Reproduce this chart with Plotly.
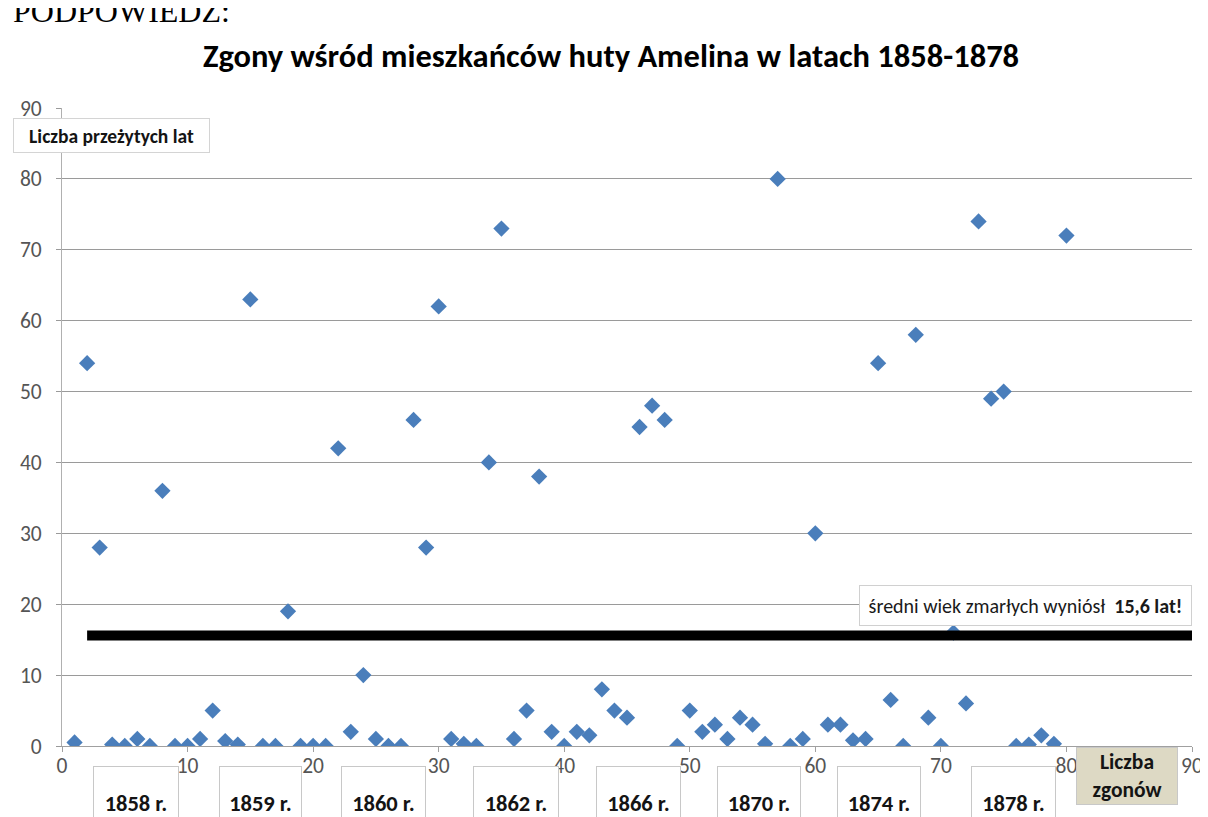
import plotly.graph_objects as go

# ---- data ----
death_no = [1, 2, 3, 4, 5, 6, 7, 8, 9, 10, 11, 12, 13, 14, 15, 16, 17, 18, 19, 20,
            21, 22, 23, 24, 25, 26, 27, 28, 29, 30, 31, 32, 33, 34, 35, 36, 37, 38, 39, 40,
            41, 42, 43, 44, 45, 46, 47, 48, 49, 50, 51, 52, 53, 54, 55, 56, 57, 58, 59, 60,
            61, 62, 63, 64, 65, 66, 67, 68, 69, 70, 71, 72, 73, 74, 75, 76, 77, 78, 79, 80]
years_lived = [0.5, 54, 28, 0.2, 0, 1, 0, 36, 0, 0,
               1, 5, 0.7, 0.2, 63, 0, 0, 19, 0, 0,
               0, 42, 2, 10, 1, 0, 0, 46, 28, 62,
               1, 0.3, 0, 40, 73, 1, 5, 38, 2, 0,
               2, 1.5, 8, 5, 4, 45, 48, 46, 0, 5,
               2, 3, 1, 4, 3, 0.3, 80, 0, 1, 30,
               3, 3, 0.8, 1, 54, 6.5, 0, 58, 4, 0,
               16, 6, 74, 49, 50, 0, 0.2, 1.5, 0.3, 72]
mean_age = 15.6
mean_line_x = [2, 90.3]
axis_ticks = [0, 10, 20, 30, 40, 50, 60, 70, 80, 90]
year_labels = ["1858 r.", "1859 r.", "1860 r.", "1862 r.", "1866 r.", "1870 r.", "1874 r.", "1878 r."]

title_text = "Zgony wśród mieszkańców huty Amelina w latach 1858-1878"
y_title = "Liczba przeżytych lat"
x_title = "Liczba<br>zgonów"
mean_text = "średni wiek zmarłych wyniósł  <b>15,6 lat!</b>"

# ---- layout geometry (pixels) ----
W, H = 1208, 817
L, R, T, B = 54, 1184, 100, 738
FONT = "Carlito, 'Liberation Sans Narrow', 'Open Sans', sans-serif"


def px(p):
    return (p - L) / (R - L)


def py(p):
    return (B - p) / (B - T)


fig = go.Figure()
fig.add_trace(go.Scatter(
    x=death_no, y=years_lived, mode="markers",
    marker=dict(symbol="diamond", size=12.5, color="#4a7ebb"),
    showlegend=False, hoverinfo="x+y",
))
fig.add_trace(go.Scatter(
    x=mean_line_x, y=[mean_age, mean_age], mode="lines", xaxis="x2",
    line=dict(color="black", width=10), showlegend=False, hoverinfo="skip",
))

year_box_x = [(85, 171), (211, 294), (333, 418), (465, 551), (588, 673), (709, 793), (829, 913), (963, 1048)]
annotations = []
for lbl, (a, b) in zip(year_labels, year_box_x):
    annotations.append(dict(
        text=f"<b>{lbl}</b>", xref="paper", yref="paper",
        x=px((a + b) / 2), y=py(758), xanchor="center", yanchor="top",
        width=b - a - 2, height=72, borderpad=0, showarrow=False,
        bgcolor="white", bordercolor="#c8c8c8", borderwidth=1,
        font=dict(family=FONT, size=22.5, color="#141414"),
    ))

annotations.append(dict(
    text=f"<b>{y_title}</b>", xref="paper", yref="paper",
    x=px(5), y=py(127.5), xanchor="left", yanchor="middle",
    width=195, height=33, borderpad=0, showarrow=False, align="center",
    bgcolor="white", bordercolor="#d4d4d4", borderwidth=1,
    font=dict(family=FONT, size=19.5, color="#141414"),
))
annotations.append(dict(
    text=f"<b>{x_title}</b>", xref="paper", yref="paper",
    x=px(1119), y=py(739), xanchor="center", yanchor="top",
    width=100, height=56, borderpad=0, showarrow=False,
    bgcolor="#ddd9c4", bordercolor="#c8c8c8", borderwidth=1,
    font=dict(family=FONT, size=21.5, color="#141414"),
))
annotations.append(dict(
    text=mean_text, xref="paper", yref="paper",
    x=px(1017.5), y=py(597.5), xanchor="center", yanchor="middle",
    width=331, height=39, borderpad=0, showarrow=False,
    bgcolor="white", bordercolor="#d0d0d0", borderwidth=1,
    font=dict(family=FONT, size=20, color="#1a1a1a"),
))
annotations.append(dict(
    text="PODPOWIEDZ:", xref="paper", yref="paper",
    x=px(4), y=py(3), xanchor="left", yanchor="middle",
    showarrow=False, borderpad=0,
    font=dict(family="'Liberation Serif', 'DejaVu Serif', serif", size=32, color="black"),
))

axis_font = dict(family=FONT, size=21.5, color="#555555")
fig.update_layout(
    width=W, height=H,
    margin=dict(l=L, r=W - R, t=T, b=H - B),
    paper_bgcolor="white", plot_bgcolor="white",
    title=dict(text=title_text, x=603 / W, xanchor="center", y=1 - 48 / H, yanchor="middle",
               yref="container",
               font=dict(family=FONT, size=32.5, color="black", weight="bold")),
    xaxis=dict(range=[0, 90], tickvals=axis_ticks,
               showgrid=False, zeroline=False, showline=True, linecolor="#a0a0a0", linewidth=1,
               ticks="", ticklen=0, tickfont=axis_font, ticklabelstandoff=0),
    xaxis2=dict(range=[0, 90], matches="x", overlaying="x", anchor="y", side="bottom",
                tickvals=axis_ticks, showticklabels=False, showgrid=False, zeroline=False,
                showline=False, ticks="outside", ticklen=5, tickcolor="#a0a0a0"),
    yaxis=dict(range=[0, 90], tickvals=axis_ticks,
               showgrid=True, gridcolor="#9a9a9a", gridwidth=1, zeroline=False,
               showline=True, linecolor="#b0b0b0", linewidth=1,
               ticks="outside", ticklen=5, tickcolor="#9a9a9a", tickfont=axis_font,
               ticklabelstandoff=10),
    annotations=annotations,
)

fig.write_html("out.html")
